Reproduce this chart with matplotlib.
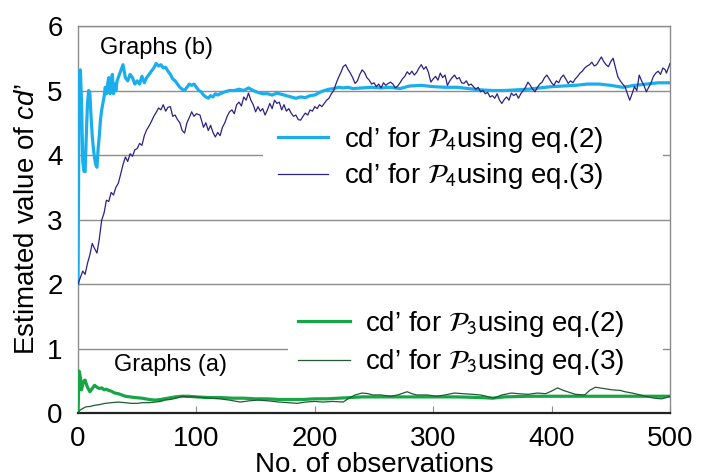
"""Recreate the cd' estimate convergence chart (graphs a and b)."""

import matplotlib
matplotlib.use("Agg")
import matplotlib.pyplot as plt
from matplotlib.lines import Line2D

plt.rcParams["font.family"] = ["Liberation Sans", "DejaVu Sans"]
plt.rcParams["mathtext.fontset"] = "custom"
plt.rcParams["mathtext.rm"] = "Liberation Sans"
plt.rcParams["mathtext.it"] = "Liberation Sans:italic"

# P4, eq.(2) -- light blue thick
P4_EQ2_X = [0, 1, 2, 3, 4, 5, 6, 7, 8, 9, 10, 11, 12, 13, 14, 15, 16, 17, 18, 19,
            20, 21, 22, 23, 24, 25, 26, 27, 28, 29, 30, 31, 32, 33, 34, 36, 38, 40,
            42, 44, 46, 48, 50, 52, 54, 56, 58, 60, 62, 64, 66, 68, 70, 72, 74, 76,
            78, 80, 82, 84, 86, 88, 90, 92, 94, 96, 98, 100, 102, 104, 106, 108,
            110, 112, 114, 116, 118, 120, 124, 128, 132, 136, 140, 144, 148, 152,
            156, 160, 164, 168, 172, 176, 180, 184, 188, 192, 196, 200, 204, 208,
            212, 216, 220, 224, 228, 232, 240, 248, 256, 264, 272, 280, 290, 300,
            310, 320, 330, 340, 350, 360, 370, 380, 390, 400, 410, 420, 430, 440,
            450, 460, 470, 480, 490, 500]
P4_EQ2_Y = [2.0, 5.3, 5.32, 4.8, 3.9, 3.75, 3.74, 4.3, 4.8, 5.0, 4.96, 4.6, 4.3, 4.1,
            3.95, 3.85, 3.81, 4.1, 4.3, 4.55, 4.7, 4.8, 4.9, 5.05, 4.95, 5.1, 5.2,
            4.95, 5.15, 5.25, 4.95, 5.1, 5.0, 5.15, 5.2, 5.3, 5.4, 5.2, 5.15, 5.25,
            5.2, 5.1, 5.15, 5.1, 5.22, 5.12, 5.2, 5.25, 5.3, 5.35, 5.42, 5.38, 5.4,
            5.35, 5.36, 5.3, 5.25, 5.18, 5.15, 5.1, 5.05, 5.02, 5.0, 5.05, 5.1, 5.08,
            5.1, 5.05, 5.0, 4.98, 4.93, 4.9, 4.88, 4.92, 4.9, 4.95, 4.93, 4.95, 4.98,
            5.0, 5.0, 5.02, 5.0, 5.04, 5.0, 4.97, 4.95, 4.95, 4.93, 4.96, 4.94, 4.92,
            4.9, 4.88, 4.9, 4.89, 4.92, 4.93, 4.97, 5.0, 5.02, 5.03, 5.05, 5.04,
            5.05, 5.03, 5.04, 5.05, 5.04, 5.05, 5.03, 5.07, 5.08, 5.06, 5.05, 5.05,
            5.03, 5.01, 5.0, 5.0, 5.01, 5.02, 5.04, 5.06, 5.07, 5.08, 5.1, 5.1, 5.08,
            5.05, 5.08, 5.1, 5.12, 5.12]

# P4, eq.(3) -- navy thin
P4_EQ3_X = [0, 2, 4, 6, 8, 10, 12, 14, 16, 18, 20, 22, 24, 26, 28, 30, 32, 34, 36,
            38, 40, 42, 44, 46, 48, 50, 52, 54, 56, 58, 60, 62, 64, 66, 68, 70, 72,
            74, 76, 78, 80, 82, 84, 86, 88, 90, 92, 94, 96, 98, 100, 103, 106, 108,
            110, 112, 114, 116, 118, 120, 122, 124, 126, 128, 130, 132, 134, 136,
            138, 140, 142, 144, 146, 148, 150, 152, 154, 156, 158, 160, 162, 164,
            166, 168, 170, 172, 174, 176, 178, 180, 182, 184, 186, 188, 190, 192,
            194, 196, 198, 200, 202, 204, 206, 208, 210, 212, 214, 216, 218, 220,
            222, 224, 226, 228, 230, 232, 234, 236, 238, 240, 242, 244, 246, 248,
            250, 252, 254, 256, 258, 260, 262, 264, 266, 268, 270, 272, 274, 276,
            278, 280, 282, 284, 286, 288, 290, 292, 294, 296, 298, 300, 302, 304,
            306, 308, 310, 312, 314, 316, 318, 320, 322, 324, 326, 328, 330, 332,
            334, 336, 338, 340, 342, 344, 346, 348, 350, 352, 354, 356, 358, 360,
            362, 364, 366, 368, 370, 372, 374, 376, 378, 380, 382, 384, 386, 388,
            390, 392, 394, 396, 398, 400, 402, 404, 406, 408, 410, 412, 414, 416,
            418, 420, 422, 424, 426, 428, 430, 432, 434, 436, 438, 440, 442, 444,
            446, 448, 450, 452, 454, 456, 458, 460, 462, 464, 466, 468, 470, 472,
            474, 476, 478, 480, 482, 484, 486, 488, 490, 492, 494, 496, 497, 500]
P4_EQ3_Y = [2.0, 2.1, 2.2, 2.15, 2.32, 2.45, 2.63, 2.55, 2.48, 2.7, 2.99, 3.1, 3.3,
            3.28, 3.42, 3.38, 3.5, 3.56, 3.7, 3.85, 3.97, 3.9, 4.02, 3.98, 4.08, 4.1,
            4.18, 4.15, 4.3, 4.39, 4.45, 4.52, 4.6, 4.66, 4.73, 4.7, 4.78, 4.68, 4.74,
            4.75, 4.6, 4.62, 4.55, 4.5, 4.38, 4.34, 4.5, 4.58, 4.67, 4.6, 4.64, 4.62,
            4.43, 4.5, 4.38, 4.46, 4.35, 4.28, 4.35, 4.3, 4.43, 4.5, 4.6, 4.67, 4.7,
            4.64, 4.78, 4.82, 4.76, 4.9, 4.85, 4.96, 4.85, 4.78, 4.67, 4.75, 4.68,
            4.72, 4.62, 4.7, 4.8, 4.72, 4.85, 4.8, 4.82, 4.7, 4.78, 4.68, 4.72, 4.65,
            4.6, 4.62, 4.55, 4.54, 4.6, 4.65, 4.62, 4.7, 4.68, 4.75, 4.72, 4.78, 4.75,
            4.8, 4.85, 4.88, 4.95, 5.0, 5.11, 5.2, 5.28, 5.37, 5.4, 5.33, 5.27, 5.2,
            5.11, 5.15, 5.25, 5.32, 5.28, 5.2, 5.16, 5.1, 5.12, 5.06, 5.1, 5.04,
            5.12, 5.08, 5.11, 5.13, 5.1, 5.04, 5.07, 5.12, 5.18, 5.22, 5.29, 5.25,
            5.3, 5.24, 5.28, 5.35, 5.4, 5.33, 5.37, 5.28, 5.13, 5.18, 5.22, 5.16,
            5.27, 5.2, 5.24, 5.08, 5.15, 5.2, 5.24, 5.18, 5.2, 5.12, 5.11, 5.15, 5.08,
            5.1, 5.06, 5.02, 5.05, 4.98, 5.0, 4.95, 4.97, 4.9, 4.92, 4.88, 4.95, 4.85,
            4.8, 4.86, 4.9, 4.85, 4.96, 4.92, 4.95, 4.88, 4.95, 5.0, 5.05, 5.13, 5.08,
            5.02, 4.98, 5.05, 5.1, 5.13, 5.2, 5.24, 5.18, 5.12, 5.08, 5.15, 5.12, 5.2,
            5.24, 5.18, 5.11, 5.15, 5.12, 5.18, 5.22, 5.27, 5.3, 5.35, 5.38, 5.4,
            5.44, 5.38, 5.4, 5.46, 5.52, 5.45, 5.4, 5.37, 5.45, 5.5, 5.35, 5.21, 5.15,
            5.1, 5.06, 4.95, 4.85, 4.95, 5.06, 5.0, 5.24, 5.15, 5.08, 4.98, 5.05,
            5.12, 5.22, 5.27, 5.3, 5.25, 5.35, 5.32, 5.27, 5.42]

# P3, eq.(2) -- green thick
P3_EQ2_X = [0, 1, 2, 3, 4, 5, 6, 7, 8, 10, 12, 14, 16, 18, 20, 22, 24, 26, 28, 31,
            34, 37, 40, 44, 48, 54, 60, 65, 70, 76, 82, 88, 93, 100, 110, 120, 130,
            140, 150, 160, 170, 180, 190, 200, 210, 220, 230, 240, 260, 280, 300,
            320, 340, 350, 360, 380, 400, 420, 440, 460, 480, 500]
P3_EQ2_Y = [0.0, 0.65, 0.55, 0.36, 0.45, 0.5, 0.51, 0.45, 0.4, 0.33, 0.38, 0.43, 0.4,
            0.38, 0.39, 0.36, 0.37, 0.35, 0.34, 0.31, 0.3, 0.28, 0.26, 0.25, 0.24,
            0.23, 0.21, 0.2, 0.21, 0.23, 0.25, 0.26, 0.26, 0.25, 0.24, 0.24, 0.23,
            0.23, 0.22, 0.22, 0.21, 0.21, 0.21, 0.22, 0.22, 0.23, 0.24, 0.25, 0.25,
            0.25, 0.25, 0.25, 0.24, 0.23, 0.25, 0.26, 0.26, 0.26, 0.26, 0.26, 0.26,
            0.26]

# P3, eq.(3) -- dark green thin
P3_EQ3_X = [0, 2, 4, 6, 8, 10, 14, 18, 23, 28, 34, 40, 45, 50, 54, 60, 65, 70, 73,
            78, 83, 88, 93, 99, 105, 112, 120, 128, 137, 145, 152, 160, 170, 178,
            185, 192, 200, 207, 215, 224, 228, 234, 240, 245, 249, 256, 264, 270,
            278, 282, 286, 295, 303, 310, 318, 325, 333, 340, 345, 351, 358, 366,
            372, 380, 388, 395, 400, 405, 410, 415, 420, 428, 432, 437, 444, 451,
            458, 462, 468, 475, 481, 487, 493, 497, 500]
P3_EQ3_Y = [0.0, 0.05, 0.07, 0.09, 0.1, 0.1, 0.12, 0.13, 0.15, 0.16, 0.17, 0.16, 0.15,
            0.15, 0.16, 0.16, 0.17, 0.18, 0.2, 0.21, 0.23, 0.26, 0.25, 0.25, 0.24,
            0.23, 0.22, 0.2, 0.17, 0.19, 0.2, 0.19, 0.17, 0.16, 0.15, 0.17, 0.18,
            0.17, 0.18, 0.17, 0.22, 0.28, 0.31, 0.3, 0.28, 0.28, 0.26, 0.28, 0.33,
            0.3, 0.28, 0.28, 0.26, 0.28, 0.31, 0.3, 0.29, 0.28, 0.26, 0.23, 0.28,
            0.31, 0.3, 0.29, 0.31, 0.3, 0.34, 0.39, 0.35, 0.32, 0.29, 0.28, 0.35,
            0.4, 0.38, 0.36, 0.35, 0.33, 0.31, 0.28, 0.25, 0.23, 0.22, 0.24, 0.26]

LABELS_B = [r"cd’ for $\mathcal{P}_4$using eq.(2)", r"cd’ for $\mathcal{P}_4$using eq.(3)"]
LABELS_A = [r"cd’ for $\mathcal{P}_3$using eq.(2)", r"cd’ for $\mathcal{P}_3$using eq.(3)"]

LIGHT_BLUE = "#1aaeec"
NAVY = "#2b2283"
GREEN = "#17a545"
DARK_GREEN = "#1f5a34"
GRID = "#8c8c8c"


def main() -> None:
    fig = plt.figure(figsize=(7.04, 4.73), dpi=100)
    ax = fig.add_axes([0.1108, 0.1268, 0.8409, 0.8182])

    ax.plot(P4_EQ2_X, P4_EQ2_Y, color=LIGHT_BLUE, lw=2.3, zorder=3)
    ax.plot(P4_EQ3_X, P4_EQ3_Y, color=NAVY, lw=0.9, zorder=4)
    ax.plot(P3_EQ2_X, P3_EQ2_Y, color=GREEN, lw=2.3, zorder=3)
    ax.plot(P3_EQ3_X, P3_EQ3_Y, color=DARK_GREEN, lw=0.9, zorder=4)

    ax.set_xlim(0, 500)
    ax.set_ylim(0, 6)
    ax.set_xticks([0, 100, 200, 300, 400, 500])
    ax.set_yticks([0, 1, 2, 3, 4, 5, 6])
    ax.yaxis.grid(True, color=GRID, lw=1.0, zorder=0)
    ax.set_axisbelow(True)
    ax.tick_params(axis="x", direction="in", length=5, color=GRID, labelsize=20, pad=9)
    ax.tick_params(axis="y", length=0, labelsize=20, pad=11)
    for side in ("top", "right", "left"):
        ax.spines[side].set_color(GRID)
        ax.spines[side].set_linewidth(1.0)
    ax.spines["bottom"].set_color("#222222")
    ax.spines["bottom"].set_linewidth(1.6)

    ax.set_xlabel("No. of observations", fontsize=20, labelpad=0)
    ax.set_ylabel(r"Estimated value of $\mathit{cd}$’", fontsize=20, labelpad=5)

    ax.text(18.6, 5.66, "Graphs (b)", fontsize=17, ha="left", va="center")
    ax.text(30.4, 0.74, "Graphs (a)", fontsize=17, ha="left", va="center")

    # two white legend boxes that hide the gridlines underneath
    handles_b = [Line2D([], [], color=LIGHT_BLUE, lw=2.3), Line2D([], [], color=NAVY, lw=0.9)]
    handles_a = [Line2D([], [], color=GREEN, lw=2.3), Line2D([], [], color=DARK_GREEN, lw=0.9)]

    leg_b = ax.legend(
        handles_b, LABELS_B, loc="center left",
        bbox_to_anchor=(263 / 704, 1 - 158 / 473, (663 - 263) / 704, 0.0),
        bbox_transform=fig.transFigure, mode="expand",
        fontsize=20, frameon=True, fancybox=False, framealpha=1.0,
        facecolor="white", edgecolor="none", borderpad=0.54, borderaxespad=0,
        handlelength=1.8, handletextpad=0.58, labelspacing=0.25,
    )
    for t in leg_b.get_texts():
        t.set_math_fontfamily("stixsans")
    leg_b.set_zorder(1)
    ax.add_artist(leg_b)

    leg_a = ax.legend(
        handles_a, LABELS_A, loc="center left",
        bbox_to_anchor=(288 / 704, 1 - 343 / 473, (663 - 288) / 704, 0.0),
        bbox_transform=fig.transFigure, mode="expand",
        fontsize=20, frameon=True, fancybox=False, framealpha=1.0,
        facecolor="white", edgecolor="none", borderpad=0.36, borderaxespad=0,
        handlelength=1.87, handletextpad=0.54, labelspacing=0.32,
    )
    for t in leg_a.get_texts():
        t.set_math_fontfamily("stixsans")
    leg_a.set_zorder(1)

    fig.savefig("out.png", dpi=100, facecolor="white")
    plt.close(fig)


if __name__ == "__main__":
    main()
